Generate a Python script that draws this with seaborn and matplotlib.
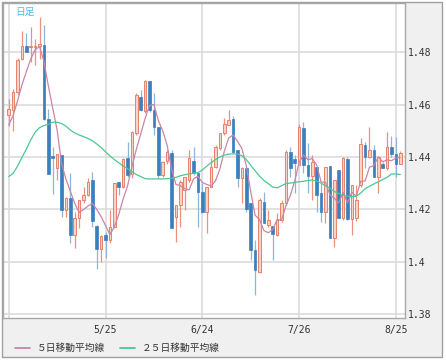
import matplotlib
matplotlib.use("Agg")
import matplotlib.pyplot as plt
from matplotlib.patches import Rectangle
import numpy as np
import pandas as pd
import seaborn as sns

# daily candles
open_ = [1.4560, 1.4580, 1.4650, 1.4773, 1.4824, 1.4820, 1.4822, 1.4823, 1.4828, 1.4544,
         1.4405, 1.4356, 1.4407, 1.4197, 1.4242, 1.4100, 1.4165, 1.4235, 1.4255, 1.4312,
         1.4136, 1.4047, 1.4100, 1.4082, 1.4133, 1.4305, 1.4286, 1.4395, 1.4335, 1.4490,
         1.4628, 1.4574, 1.4692, 1.4580, 1.4516, 1.4331, 1.4386, 1.4415, 1.4172, 1.4217,
         1.4274, 1.4312, 1.4386, 1.4337, 1.4267, 1.4190, 1.4286, 1.4363, 1.4433, 1.4493,
         1.4522, 1.4544, 1.4427, 1.4318, 1.4356, 1.4223, 1.4044, 1.3961, 1.4229, 1.4140,
         1.4136, 1.4101, 1.4159, 1.4223, 1.4420, 1.4391, 1.4369, 1.4510, 1.4369, 1.4328,
         1.4363, 1.4261, 1.4191, 1.4365, 1.4089, 1.4352, 1.4165, 1.4391, 1.4162, 1.4165,
         1.4293, 1.4446, 1.4401, 1.4427, 1.4324, 1.4375, 1.4356, 1.4437, 1.4411, 1.4375]
high = [1.4623, 1.4660, 1.4780, 1.4880, 1.4875, 1.4898, 1.4850, 1.4937, 1.4904, 1.4585,
        1.4440, 1.4413, 1.4408, 1.4245, 1.4337, 1.4190, 1.4236, 1.4285, 1.4320, 1.4344,
        1.4141, 1.4100, 1.4114, 1.4197, 1.4300, 1.4306, 1.4395, 1.4458, 1.4500, 1.4643,
        1.4655, 1.4694, 1.4692, 1.4643, 1.4516, 1.4383, 1.4425, 1.4425, 1.4218, 1.4312,
        1.4325, 1.4427, 1.4439, 1.4337, 1.4300, 1.4286, 1.4395, 1.4446, 1.4493, 1.4548,
        1.4580, 1.4557, 1.4427, 1.4363, 1.4356, 1.4223, 1.4082, 1.4242, 1.4267, 1.4197,
        1.4136, 1.4184, 1.4235, 1.4427, 1.4437, 1.4407, 1.4528, 1.4535, 1.4452, 1.4407,
        1.4363, 1.4300, 1.4363, 1.4365, 1.4312, 1.4352, 1.4401, 1.4401, 1.4293, 1.4293,
        1.4471, 1.4458, 1.4516, 1.4446, 1.4401, 1.4382, 1.4497, 1.4480, 1.4478, 1.4421]
low = [1.4520, 1.4500, 1.4640, 1.4772, 1.4800, 1.4765, 1.4750, 1.4775, 1.4540, 1.4333,
       1.4260, 1.4310, 1.4170, 1.4170, 1.4070, 1.4050, 1.4130, 1.4225, 1.4250, 1.4133,
       1.3970, 1.4000, 1.4012, 1.4070, 1.4127, 1.4255, 1.4280, 1.4325, 1.4318, 1.4485,
       1.4574, 1.4567, 1.4573, 1.4484, 1.4318, 1.4325, 1.4375, 1.4128, 1.4076, 1.4133,
       1.4197, 1.4305, 1.4331, 1.4133, 1.4184, 1.4108, 1.4286, 1.4356, 1.4427, 1.4484,
       1.4522, 1.4414, 1.4286, 1.4223, 1.4190, 1.4006, 1.3872, 1.3955, 1.4146, 1.4133,
       1.4006, 1.4098, 1.4152, 1.4216, 1.4325, 1.4261, 1.4369, 1.4337, 1.4261, 1.4235,
       1.4191, 1.4152, 1.4146, 1.4089, 1.4057, 1.4165, 1.4159, 1.4159, 1.4101, 1.4155,
       1.4286, 1.4357, 1.4395, 1.4324, 1.4261, 1.4356, 1.4350, 1.4401, 1.4325, 1.4372]
close = [1.4582, 1.4650, 1.4770, 1.4824, 1.4803, 1.4826, 1.4826, 1.4833, 1.4544, 1.4333,
         1.4395, 1.4411, 1.4197, 1.4242, 1.4100, 1.4165, 1.4235, 1.4254, 1.4306, 1.4156,
         1.4047, 1.4098, 1.4082, 1.4133, 1.4300, 1.4286, 1.4394, 1.4331, 1.4497, 1.4637,
         1.4580, 1.4692, 1.4580, 1.4516, 1.4331, 1.4382, 1.4418, 1.4128, 1.4217, 1.4306,
         1.4325, 1.4395, 1.4337, 1.4267, 1.4190, 1.4286, 1.4363, 1.4439, 1.4493, 1.4528,
         1.4541, 1.4420, 1.4318, 1.4356, 1.4200, 1.4044, 1.3968, 1.4235, 1.4146, 1.4157,
         1.4105, 1.4159, 1.4223, 1.4420, 1.4356, 1.4378, 1.4516, 1.4369, 1.4328, 1.4379,
         1.4255, 1.4191, 1.4363, 1.4089, 1.4312, 1.4165, 1.4395, 1.4162, 1.4293, 1.4235,
         1.4449, 1.4401, 1.4427, 1.4324, 1.4401, 1.4356, 1.4437, 1.4411, 1.4375, 1.4414]
# closes just before the visible window (needed for the first 5-day averages)
lead_close = [1.4470, 1.4490, 1.4520, 1.4550]
ma25 = [1.4325, 1.4337, 1.4365, 1.4398, 1.4430, 1.4465, 1.4495, 1.4512, 1.4520, 1.4525,
        1.4533, 1.4533, 1.4528, 1.4518, 1.4503, 1.4492, 1.4484, 1.4478, 1.4471, 1.4462,
        1.4450, 1.4436, 1.4420, 1.4404, 1.4390, 1.4378, 1.4366, 1.4355, 1.4344, 1.4333,
        1.4325, 1.4317, 1.4316, 1.4316, 1.4316, 1.4316, 1.4317, 1.4318, 1.4322, 1.4328,
        1.4332, 1.4335, 1.4338, 1.4340, 1.4350, 1.4365, 1.4378, 1.4390, 1.4400, 1.4407,
        1.4411, 1.4412, 1.4411, 1.4405, 1.4390, 1.4368, 1.4347, 1.4327, 1.4310, 1.4298,
        1.4285, 1.4282, 1.4290, 1.4298, 1.4300, 1.4303, 1.4305, 1.4307, 1.4310, 1.4312,
        1.4308, 1.4300, 1.4290, 1.4280, 1.4268, 1.4260, 1.4254, 1.4250, 1.4248, 1.4250,
        1.4262, 1.4278, 1.4288, 1.4297, 1.4305, 1.4314, 1.4322, 1.4335, 1.4335, 1.4333]

tick_pos = [0, 22, 44, 66, 88]
tick_labels = ["", "5/25", "6/24", "7/26", "8/25"]
y_ticks = [1.38, 1.40, 1.42, 1.44, 1.46, 1.48]
y_labels = ["1.38", "1.4", "1.42", "1.44", "1.46", "1.48"]

UP_EDGE = "#e8806a"
UP_FACE = "#f8d3c8"
UP_WICK = "#ec917b"
DN_BODY = "#3b7fbd"
DN_WICK = "#8db6da"
MA5_COL = "#c986a8"
MA25_COL = "#4cc890"

df = pd.DataFrame({"open": open_, "high": high, "low": low, "close": close})
df["x"] = np.arange(len(df))
df["up"] = df["close"] >= df["open"]
df["lo"] = df[["open", "close"]].min(axis=1)
df["h"] = (df["close"] - df["open"]).abs().clip(lower=0.0002)
closes = pd.Series(lead_close + close)
df["ma5"] = closes.rolling(5).mean().iloc[len(lead_close):].values
df["ma25"] = ma25

sns.set_style("white")
plt.rcParams["font.family"] = ["Noto Sans CJK JP", "DejaVu Sans"]

fig = plt.figure(figsize=(4.46, 3.62), dpi=100)
fig.patches.append(Rectangle((2 / 446, 1 - 357 / 362), 440 / 446, 355 / 362,
                             transform=fig.transFigure, facecolor="#f0f0f0",
                             edgecolor="#a0a0a0", lw=1, zorder=-10))
ax = fig.add_axes([3 / 446, 44 / 362, 402 / 446, 315 / 362])
ax.set_zorder(2)
ax.set_facecolor("white")

up = df[df["up"]]
dn = df[~df["up"]]
ax.vlines(up["x"], up["low"], up["high"], color=UP_WICK, lw=0.9, zorder=2)
ax.vlines(dn["x"], dn["low"], dn["high"], color=DN_WICK, lw=0.9, zorder=2)
ax.bar(up["x"], up["h"], bottom=up["lo"], width=0.62, facecolor=UP_FACE,
       edgecolor=UP_EDGE, lw=0.7, zorder=3)
ax.bar(dn["x"], dn["h"], bottom=dn["lo"], width=0.62, facecolor=DN_BODY,
       edgecolor=DN_BODY, lw=0.5, zorder=3)

sns.lineplot(data=df, x="x", y="ma5", color=MA5_COL, lw=0.9, ax=ax,
             label="５日移動平均線", zorder=4)
sns.lineplot(data=df, x="x", y="ma25", color=MA25_COL, lw=0.9, ax=ax,
             label="２５日移動平均線", zorder=4)

handles, labels = ax.get_legend_handles_labels()
ax.get_legend().remove()
leg = fig.legend(handles, labels, loc="center left", bbox_to_anchor=(15 / 446, 1 - 348 / 362),
                 ncol=2, frameon=False, fontsize=7, handlelength=1.55, handletextpad=0.7,
                 columnspacing=1.5, borderpad=0, borderaxespad=0)
leg.set_zorder(5)
for t in leg.get_texts():
    t.set_color("#333333")
for line in leg.get_lines():
    line.set_linewidth(1.3)

ax.set_xlim(-1.3, 90.07)
ax.set_ylim(1.3784, 1.4989)
ax.set_xticks(tick_pos)
ax.set_xticklabels(tick_labels, family="DejaVu Sans Mono", fontsize=7, color="#333333")
ax.yaxis.tick_right()
ax.set_yticks(y_ticks)
ax.set_yticklabels(y_labels, family="DejaVu Sans Mono", fontsize=7, color="#333333")
ax.tick_params(axis="both", length=0)
ax.tick_params(axis="y", pad=2)
ax.tick_params(axis="x", pad=5)
ax.grid(True, color="#dcdcdc", lw=1.2)
ax.set_axisbelow(True)
ax.set_xlabel("")
ax.set_ylabel("")
for s in ax.spines.values():
    s.set_color("#a8a8a8")
    s.set_linewidth(1)

ax.text(0.03, 0.972, "日足", transform=ax.transAxes, color="#44c0f0", fontsize=7,
        va="center", ha="left")

fig.savefig("out.png", dpi=100)
